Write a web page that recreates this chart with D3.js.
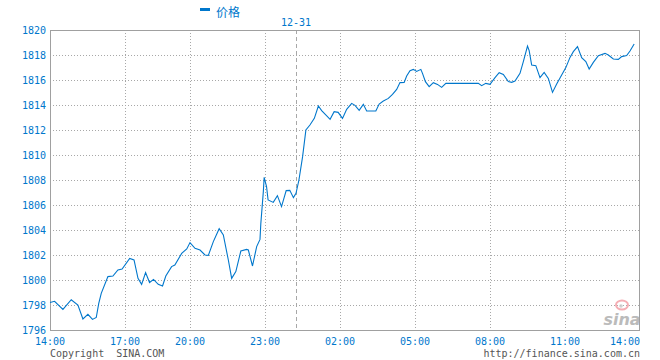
<!DOCTYPE html>
<html><head><meta charset="utf-8">
<script src="https://cdn.jsdelivr.net/npm/d3@7"></script>
<style>body{margin:0;background:#fff}</style>
</head><body><svg id="c" width="660" height="360"></svg>
<script>
const seriesName = "价格";
const times = ["14:00","14:11","14:31","14:51","15:07","15:19","15:31","15:42","15:51","15:57",
"16:03","16:19","16:31","16:43","16:53","17:13","17:25","17:36","17:46","17:57",
"18:08","18:19","18:32","18:44","18:53","19:09","19:18","19:37","19:51","20:00",
"20:12","20:24","20:36","20:44","20:56","21:10","21:20","21:32","21:40","21:50",
"22:02","22:16","22:20","22:30","22:40","22:48","22:50","22:56","22:58","23:03",
"23:06","23:16","23:24","23:32","23:41","23:48","23:55","00:00","00:08","00:18",
"00:27","00:38","00:50","01:01","01:10","01:33","01:44","01:55","02:06","02:16",
"02:28","02:36","02:46","02:56","03:04","03:26","03:34","03:44","03:56","04:06",
"04:16","04:24","04:34","04:40","04:48","04:56","05:04","05:14","05:18","05:25",
"05:34","05:44","05:54","06:04","06:14","07:32","07:40","07:50","08:00","08:12",
"08:22","08:32","08:44","08:52","09:00","09:12","09:20","09:30","09:34","09:40",
"09:50","10:00","10:10","10:20","10:30","10:40","10:52","11:02","11:12","11:20",
"11:30","11:40","11:50","11:58","12:08","12:20","12:36","12:44","12:56","13:08",
"13:16","13:28","13:36","13:46"];
const prices = [1798.2,1798.3,1797.65,1798.42,1798.0,1796.88,1797.25,1796.85,1797.0,1798.13,
1798.93,1800.27,1800.32,1800.8,1800.88,1801.73,1801.6,1800.13,1799.65,1800.6,
1799.8,1800.05,1799.65,1799.52,1800.32,1801.07,1801.2,1802.13,1802.48,1802.99,
1802.53,1802.4,1802.0,1801.97,1803.07,1804.1,1803.6,1801.6,1800.13,1800.67,
1802.32,1802.45,1802.4,1801.12,1802.67,1803.25,1804.53,1807.07,1808.21,1807.47,
1806.4,1806.21,1806.75,1805.87,1807.15,1807.17,1806.59,1806.93,1808.0,1809.87,
1812.0,1812.4,1812.93,1813.92,1813.55,1812.85,1813.47,1813.41,1812.93,1813.65,
1814.13,1813.97,1813.57,1814.05,1813.52,1813.52,1814.08,1814.32,1814.53,1814.85,
1815.25,1815.79,1815.81,1816.32,1816.75,1816.85,1816.69,1816.85,1816.53,1815.87,
1815.47,1815.79,1815.65,1815.41,1815.73,1815.73,1815.55,1815.73,1815.65,1816.19,
1816.59,1816.45,1815.87,1815.81,1815.92,1816.53,1817.47,1818.72,1818.35,1817.2,
1817.15,1816.19,1816.61,1816.13,1815.01,1815.68,1816.4,1816.99,1817.81,1818.27,
1818.67,1817.79,1817.47,1816.88,1817.41,1817.95,1818.13,1818.0,1817.68,1817.65,
1817.87,1817.95,1818.32,1818.88];
const yTicks = [1796,1798,1800,1802,1804,1806,1808,1810,1812,1814,1816,1818,1820];
const xTickLabels = ["14:00","17:00","20:00","23:00","02:00","05:00","08:00","11:00","14:00"];
const xTickMinutes = [0,180,360,540,720,900,1080,1260,1440];
const dateLabel = "12-31";
const dateMinute = 600;
const copyrightLeft = "Copyright  SINA.COM";
const copyrightRight = "http://finance.sina.com.cn";

const BLUE = "#0077cc", GRID = "#a8a8a8", FRAME = "#a0a0a0";
const L = 50, R = 640, T = 30, B = 330;
const svg = d3.select("#c");
const mono = "'DejaVu Sans Mono', 'Liberation Mono', monospace";

function toMin(t){ const [h,m] = t.split(":").map(Number); return ((h*60+m) - 840 + 1440) % 1440; }

// session-compressed time axis (breakpoints on the time ticks and the date line)
const bpDomain = [0,180,360,540,600,720,900,1080,1260,1440];
const bpOffsets = [0,75,140,215,246,290,365,440,515,590];
const x = d3.scaleLinear().domain(bpDomain).range(bpOffsets.map(o => L + o));
const y = d3.scaleLinear().domain([1796,1820]).range([B,T]);

const data = times.map((t,i) => ({m: toMin(t), v: prices[i]}));

// horizontal grid
svg.append("g").selectAll("line").data(yTicks.filter(v => v>1796 && v<1820)).join("line")
  .attr("x1", L).attr("x2", R)
  .attr("y1", d => Math.round(y(d))+0.5).attr("y2", d => Math.round(y(d))+0.5)
  .attr("stroke", GRID).attr("stroke-dasharray","1,2").attr("shape-rendering","crispEdges");
// vertical grid
svg.append("g").selectAll("line").data(xTickMinutes.slice(1,-1)).join("line")
  .attr("x1", d => Math.round(x(d))+0.5).attr("x2", d => Math.round(x(d))+0.5)
  .attr("y1", T).attr("y2", B)
  .attr("stroke", GRID).attr("stroke-dasharray","1,2").attr("shape-rendering","crispEdges");
// date line
svg.append("line")
  .attr("x1", Math.round(x(dateMinute))+0.5).attr("x2", Math.round(x(dateMinute))+0.5)
  .attr("y1", T).attr("y2", B)
  .attr("stroke", GRID).attr("stroke-dasharray","4,3").attr("shape-rendering","crispEdges");
svg.append("text").attr("x", x(dateMinute)).attr("y", 26).attr("text-anchor","middle")
  .attr("font-family", mono).attr("font-size", 10).attr("fill", BLUE).text(dateLabel);

// sina logo
const logo = svg.append("g").attr("opacity",0.85);
logo.append("ellipse").attr("cx",622).attr("cy",305).attr("rx",6).attr("ry",4.5).attr("fill","none").attr("stroke","#f4a0a8").attr("stroke-width",2);
logo.append("circle").attr("cx",621).attr("cy",306).attr("r",1.8).attr("fill","#c8c8c8");
logo.append("text").attr("x",622).attr("y",325).attr("text-anchor","middle")
  .attr("font-family","'DejaVu Sans', sans-serif").attr("font-style","italic").attr("font-weight","bold")
  .attr("font-size",16).attr("fill","#b0b0b0").text("sina");

// frame
svg.append("rect").attr("x", L+0.5).attr("y", T+0.5).attr("width", R-L-1).attr("height", B-T)
  .attr("fill","none").attr("stroke", FRAME).attr("shape-rendering","crispEdges");

// line
const line = d3.line().x(d => x(d.m)).y(d => y(d.v));
svg.append("path").datum(data).attr("d", line).attr("fill","none")
  .attr("stroke", BLUE).attr("stroke-width", 1.1);

// y labels
svg.append("g").selectAll("text").data(yTicks).join("text")
  .attr("x", 46).attr("y", d => y(d)+4).attr("text-anchor","end")
  .attr("font-family", mono).attr("font-size", 10).attr("fill", BLUE).text(d => d);
// x labels
svg.append("g").selectAll("text").data(xTickMinutes).join("text")
  .attr("x", d => x(d)).attr("y", 345)
  .attr("text-anchor", (d,i) => i === xTickMinutes.length-1 ? "end" : "middle")
  .attr("font-family", mono).attr("font-size", 10).attr("fill", BLUE)
  .text((d,i) => xTickLabels[i]);

// legend
svg.append("rect").attr("x",200).attr("y",8).attr("width",10).attr("height",3).attr("fill",BLUE);
svg.append("text").attr("x",216).attr("y",17).attr("font-family","'Noto Sans CJK SC', sans-serif")
  .attr("font-size",12).attr("fill",BLUE).text(seriesName);

// footer
svg.append("text").attr("x",50).attr("y",357).attr("font-family", mono).attr("font-size",10)
  .attr("fill","#555").attr("xml:space","preserve").style("white-space","pre").text(copyrightLeft);
svg.append("text").attr("x",640).attr("y",357).attr("text-anchor","end").attr("font-family", mono)
  .attr("font-size",10).attr("fill","#555").text(copyrightRight);
</script></body></html>
